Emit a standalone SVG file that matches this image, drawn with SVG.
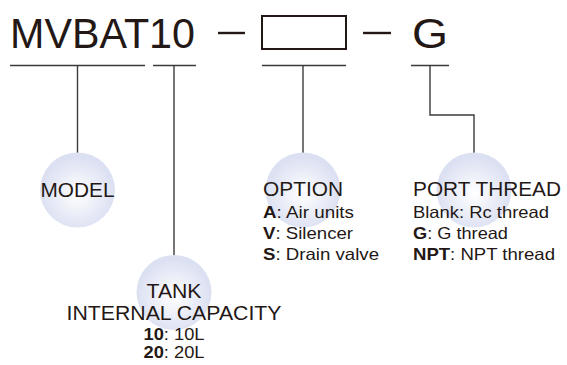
<svg xmlns="http://www.w3.org/2000/svg" width="567" height="365" viewBox="0 0 567 365">
<defs>
<radialGradient id="ball" cx="0.5" cy="0.55" r="0.5">
<stop offset="0" stop-color="#ffffff"/>
<stop offset="1" stop-color="#dbe0f2"/>
</radialGradient>
<style>
.t{font-family:"Liberation Sans",Arial,sans-serif;fill:#231815}
.h{font-size:20px}
.s{font-size:16.5px}
.b{font-weight:bold}
.ln{stroke:#3e3a39;stroke-width:1.4;fill:none}
.ball{fill:url(#ball)}
</style>
</defs>
<rect width="567" height="365" fill="#ffffff"/>
<g id="title">
<text class="t" x="10" y="48" font-size="43" textLength="185" lengthAdjust="spacingAndGlyphs">MVBAT10</text>
<line x1="218" y1="33" x2="245" y2="33" stroke="#231815" stroke-width="2.4"/>
<rect x="262" y="16" width="84" height="33" fill="none" stroke="#231815" stroke-width="2"/>
<line x1="363" y1="33" x2="391" y2="33" stroke="#231815" stroke-width="2.4"/>
<text class="t" x="412" y="48" font-size="43" textLength="36" lengthAdjust="spacingAndGlyphs">G</text>
</g>
<g id="connectors">
<line class="ln" x1="10" y1="65.5" x2="145" y2="65.5"/>
<line class="ln" x1="153" y1="65.5" x2="196" y2="65.5"/>
<line class="ln" x1="262" y1="65.5" x2="346" y2="65.5"/>
<line class="ln" x1="411" y1="65.5" x2="449" y2="65.5"/>
<line class="ln" x1="77.5" y1="65.5" x2="77.5" y2="153"/>
<line class="ln" x1="174" y1="65.5" x2="174" y2="256"/>
<line class="ln" x1="303" y1="65.5" x2="303" y2="153"/>
<polyline class="ln" points="430,65.5 430,115 474,115 474,153"/>
</g>
<g id="model">
<circle class="ball" cx="77.5" cy="190" r="37.5"/>
<text class="t h" x="77.5" y="197" text-anchor="middle" textLength="74" lengthAdjust="spacingAndGlyphs">MODEL</text>
</g>
<g id="tank">
<circle class="ball" cx="174" cy="292.5" r="37.5"/>
<text class="t h" x="174" y="298" text-anchor="middle" textLength="55" lengthAdjust="spacingAndGlyphs">TANK</text>
<text class="t h" x="174" y="320" text-anchor="middle" textLength="215" lengthAdjust="spacingAndGlyphs">INTERNAL CAPACITY</text>
<text class="t s" x="174" y="339.5" text-anchor="middle" textLength="61" lengthAdjust="spacingAndGlyphs"><tspan class="b">10</tspan>: 10L</text>
<text class="t s" x="174" y="358" text-anchor="middle" textLength="61" lengthAdjust="spacingAndGlyphs"><tspan class="b">20</tspan>: 20L</text>
</g>
<g id="option">
<circle class="ball" cx="303" cy="190" r="37.5"/>
<text class="t h" x="263" y="196" textLength="80" lengthAdjust="spacingAndGlyphs">OPTION</text>
<text class="t s" x="263" y="217.5" textLength="91" lengthAdjust="spacingAndGlyphs"><tspan class="b">A</tspan>: Air units</text>
<text class="t s" x="263" y="238.5" textLength="90" lengthAdjust="spacingAndGlyphs"><tspan class="b">V</tspan>: Silencer</text>
<text class="t s" x="263" y="259.5" textLength="116" lengthAdjust="spacingAndGlyphs"><tspan class="b">S</tspan>: Drain valve</text>
</g>
<g id="port">
<circle class="ball" cx="474" cy="190" r="37.5"/>
<text class="t h" x="413" y="196" textLength="148" lengthAdjust="spacingAndGlyphs">PORT THREAD</text>
<text class="t s" x="413" y="217.5" textLength="136" lengthAdjust="spacingAndGlyphs">Blank: Rc thread</text>
<text class="t s" x="413" y="239" textLength="95" lengthAdjust="spacingAndGlyphs"><tspan class="b">G</tspan>: G thread</text>
<text class="t s" x="413" y="260" textLength="142" lengthAdjust="spacingAndGlyphs"><tspan class="b">NPT</tspan>: NPT thread</text>
</g>
</svg>
